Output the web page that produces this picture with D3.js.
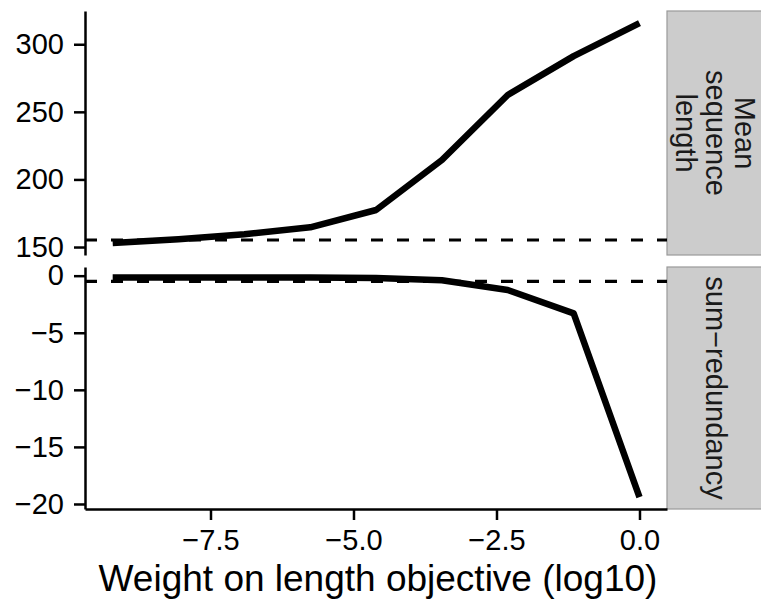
<!DOCTYPE html>
<html>
    <head>
        <meta charset="utf-8">
        <script src="https://d3js.org/d3.v7.min.js"></script>
        <title>Length weight</title>
        <style>
            body { margin: 0; background-color: #fff }
            text { font-family: "Liberation Sans", Arial, sans-serif }
        </style>
    </head>
    <body>
        <script>
            /* data */
            const weightLog = [-9.210, -8.059, -6.908, -5.756, -4.605, -3.454, -2.303, -1.151, 0]
            const meanLength = [153.0, 155.7, 159.4, 164.6, 177.4, 214.4, 262.5, 291.2, 315.6]
            const sumRedundancy = [-0.15, -0.15, -0.15, -0.15, -0.2, -0.4, -1.25, -3.3, -19.4]
            const refLines = [155.2, -0.5]
            const facetLabels = [['Mean', 'sequence', 'length'], ['sum\u2212redundancy']]
            const xTicks = [-7.5, -5, -2.5, 0]
            const yTicksTop = [150, 200, 250, 300]
            const yTicksBottom = [0, -5, -10, -15, -20]

            /* canvas setup */
            const width = 761
            const height = 602
            const left = 85, right = 667
            const stripRight = 768

            const svg = d3.select('body')
                .append('svg')
                    .attr('width', width)
                    .attr('height', height)

            const xScale = d3.scaleLinear().domain([-9.694, 0.481]).range([left, right])

            const panels = [
                { values: meanLength, ref: refLines[0], label: facetLabels[0], ticks: yTicksTop,
                  y: d3.scaleLinear().domain([144.1, 324.6]).range([255, 11]), top: 11, bottom: 255 },
                { values: sumRedundancy, ref: refLines[1], label: facetLabels[1], ticks: yTicksBottom,
                  y: d3.scaleLinear().domain([-20.44, 0.76]).range([509, 267]), top: 267, bottom: 509 }
            ]

            const styleAxis = g => {
                g.select('.domain').attr('stroke', '#000').attr('stroke-width', 2.5)
                g.selectAll('.tick line').attr('stroke', '#000').attr('stroke-width', 2.5)
                g.selectAll('.tick text').attr('fill', '#000').attr('font-size', 29)
                    .attr('font-family', '"Liberation Sans", Arial, sans-serif')
            }

            panels.forEach((p, i) => {
                // strip
                svg.append('rect')
                    .attr('x', right).attr('y', p.top)
                    .attr('width', stripRight - right).attr('height', p.bottom - p.top)
                    .attr('fill', '#cccccc').attr('stroke', '#999999').attr('stroke-width', 1.2)

                const cx = 716
                const cy = (p.top + p.bottom) / 2
                const n = p.label.length
                const t = svg.append('text')
                    .attr('transform', `translate(${cx},${cy}) rotate(90)`)
                    .attr('text-anchor', 'middle')
                    .attr('font-size', 29)
                    .attr('fill', '#1a1a1a')
                t.selectAll('tspan')
                    .data(p.label)
                    .join('tspan')
                        .attr('x', 0)
                        .attr('y', (d, j) => (j - (n - 1) / 2) * 29.5)
                        .attr('dy', '0.35em')
                        .text(d => d)

                // reference line
                svg.append('line')
                    .attr('x1', left).attr('x2', right)
                    .attr('y1', p.y(p.ref)).attr('y2', p.y(p.ref))
                    .attr('stroke', '#000').attr('stroke-width', 3.2)
                    .attr('stroke-dasharray', '12,14')

                // data line
                const line = d3.line()
                    .x((d, j) => xScale(weightLog[j]))
                    .y(d => p.y(d))
                svg.append('path')
                    .datum(p.values)
                    .attr('d', line)
                    .attr('fill', 'none')
                    .attr('stroke', '#000')
                    .attr('stroke-width', 6.5)
                    .attr('stroke-linejoin', 'round')

                // y axis
                svg.append('g')
                    .attr('transform', `translate(${left},0)`)
                    .call(d3.axisLeft(p.y).tickValues(p.ticks).tickFormat(d3.format('d'))
                        .tickSize(11).tickSizeOuter(0).tickPadding(10))
                    .call(styleAxis)
            })

            // x axis on bottom panel only
            svg.append('g')
                .attr('transform', `translate(0,509)`)
                .call(d3.axisBottom(xScale).tickValues(xTicks).tickFormat(d3.format('.1f'))
                    .tickSize(11).tickSizeOuter(0).tickPadding(9))
                .call(styleAxis)

            svg.append('text')
                .attr('x', (left + right) / 2 + 2)
                .attr('y', 591)
                .attr('text-anchor', 'middle')
                .attr('font-size', 37)
                .attr('fill', '#000')
                .text('Weight on length objective (log10)')
        </script>
    </body>
</html>
